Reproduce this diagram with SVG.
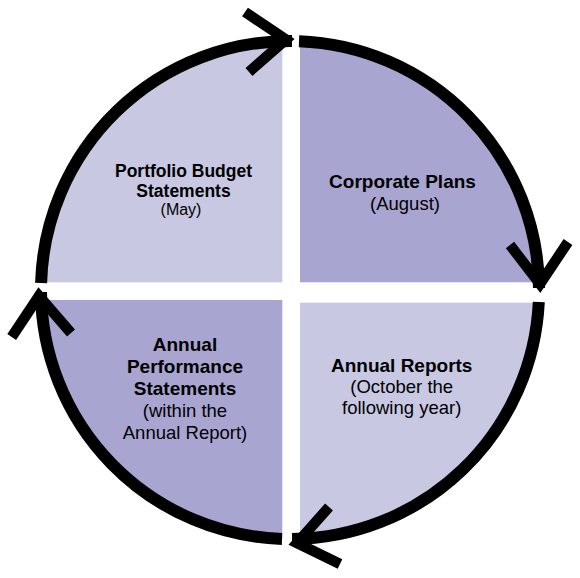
<svg xmlns="http://www.w3.org/2000/svg" width="580" height="578" viewBox="0 0 580 578">
<style>
.light{fill:#C8C8E3}
.dark{fill:#A9A5D1}
.arc{fill:none;stroke:#000;stroke-width:12;stroke-linecap:butt}
.chev{fill:none;stroke:#000;stroke-width:10.5;stroke-linejoin:miter;stroke-miterlimit:10;stroke-linecap:butt}
text{font-family:"Liberation Sans",Arial,sans-serif;fill:#000;text-anchor:middle}
.b{font-weight:bold;font-size:19px}
.r{font-size:18.5px}
.bs{font-weight:bold;font-size:17.5px}
.rs{font-size:16px}
</style>
<defs>
<clipPath id="circ"><circle cx="290" cy="290" r="249"/></clipPath>
</defs>
<rect width="580" height="578" fill="#fff"/>
<g id="portfolio-budget-statements">
<rect class="light" x="30" y="30" width="252.3" height="252.3" clip-path="url(#circ)"/>
<text class="bs" x="183.5" y="177">Portfolio Budget</text>
<text class="bs" x="183.5" y="197">Statements</text>
<text class="rs" x="181" y="215">(May)</text>
</g>
<g id="corporate-plans">
<rect class="dark" x="300" y="30" width="260" height="252.3" clip-path="url(#circ)"/>
<text class="b" x="402.5" y="188">Corporate Plans</text>
<text class="r" x="405" y="210">(August)</text>
</g>
<g id="annual-reports">
<rect class="light" x="300" y="302.7" width="260" height="260" clip-path="url(#circ)"/>
<text class="b" x="401.7" y="372">Annual Reports</text>
<text class="r" x="401.7" y="393">(October the</text>
<text class="r" x="401.7" y="414">following year)</text>
</g>
<g id="annual-performance-statements">
<rect class="dark" x="30" y="300" width="252.3" height="260" clip-path="url(#circ)"/>
<text class="b" x="185" y="351">Annual</text>
<text class="b" x="185" y="373">Performance</text>
<text class="b" x="185" y="395">Statements</text>
<text class="r" x="185" y="417">(within the</text>
<text class="r" x="185" y="438.5">Annual Report)</text>
</g>
<g id="connectors">
<path class="arc" d="M 41.1 283 A 249 249 0 0 1 292 41"/>
<path class="arc" d="M 299 41.2 A 249 249 0 0 1 539 288"/>
<path class="arc" d="M 538.8 302 A 249 249 0 0 1 292 539"/>
<path class="arc" d="M 282 538.9 A 249 249 0 0 1 41 292"/>
<polyline class="chev" points="245,12 286,39.5 249,72"/>
<polyline class="chev" points="510,245 540,284 568,242"/>
<polyline class="chev" points="11.7,337 39,296 71,333"/>
<polyline class="chev" points="329,507 297,543 340,564"/>
</g>
</svg>
